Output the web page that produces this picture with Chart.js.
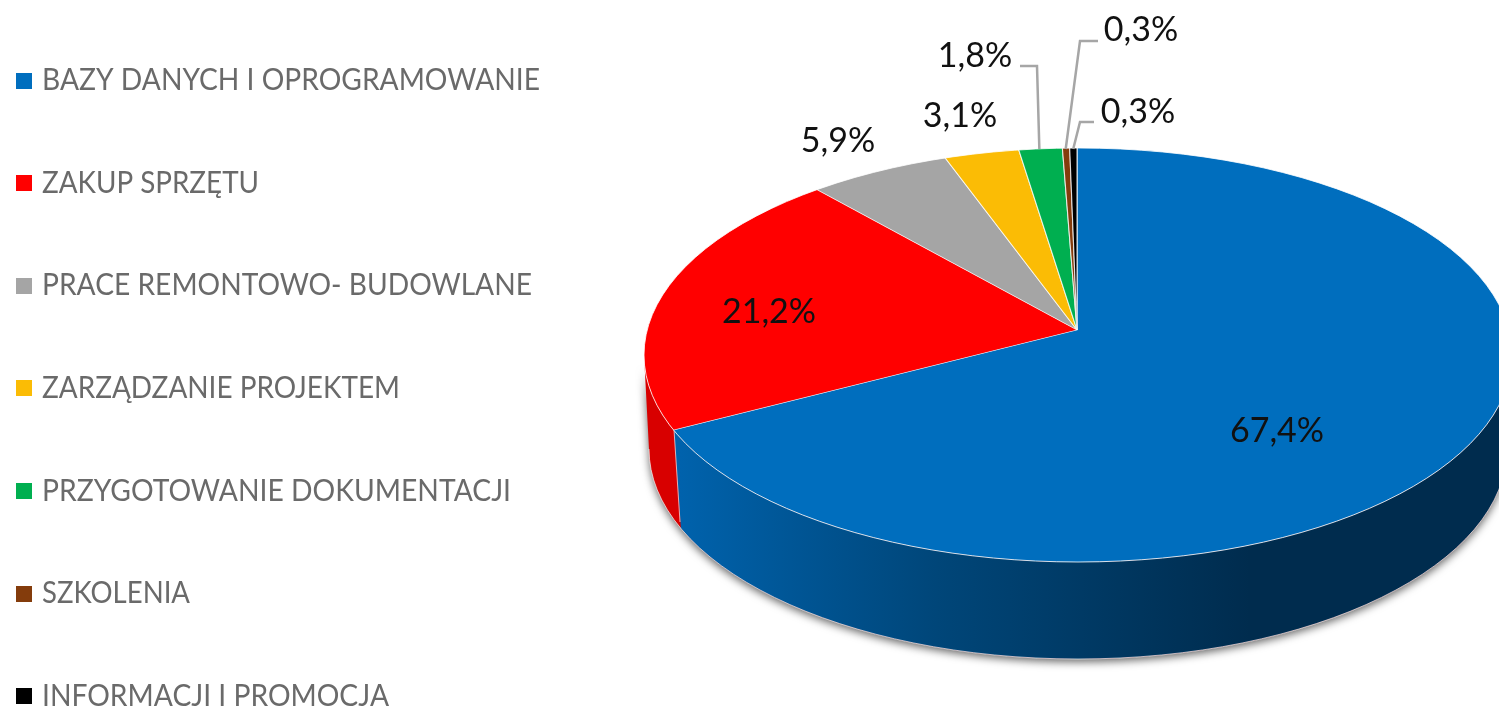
<!DOCTYPE html>
<html lang="pl">
<head>
<meta charset="utf-8">
<title>Struktura wydatków</title>
<script src="https://cdn.jsdelivr.net/npm/chart.js@4"></script>
<style>
    html, body { margin: 0; padding: 0; background: #fff; overflow: hidden; }
    canvas { display: block; }
</style>
</head>
<body>
<canvas id="pieChart" width="1499" height="707"></canvas>
<script>
// Chart data
const categories = [
    'BAZY DANYCH I OPROGRAMOWANIE',
    'ZAKUP SPRZĘTU',
    'PRACE REMONTOWO- BUDOWLANE',
    'ZARZĄDZANIE PROJEKTEM',
    'PRZYGOTOWANIE DOKUMENTACJI',
    'SZKOLENIA',
    'INFORMACJI I PROMOCJA'
];
const values = [67.4, 21.2, 5.9, 3.1, 1.8, 0.3, 0.3];
const colors = ['#006EBE', '#FF0000', '#A5A5A5', '#FBBC05', '#00AF50', '#843C0C', '#000000'];

// Drawing layout (3D look is done with canvas transforms around the library's arcs)
const apex = { x: 1077, y: 330 };
const topFace = { x: 1078, y: 355, rx: 434, ry: 207 };
const bottomFace = { x: 1078, y: 449, rx: 429, ry: 210 };
const upperFan = { narrow: 400, wide: 480, ry: 188 };
const lowerFan = { rx: 490, ry: 235 };
const legendLayout = { x: 42, boxX: 16, boxSize: 16, firstY: 80.5, stepY: 102.6 };
const legendWidths = [498, 217, 490, 358, 469, 148, 347];
const labelSpots = [
    { x: 1277, y: 431 }, { x: 769, y: 312 }, { x: 838, y: 141 }, { x: 960, y: 116 },
    { x: 975, y: 56, elbow: [[1020, 66], [1037, 66]] },
    { x: 1141, y: 30, elbow: [[1098, 41], [1080, 41]] },
    { x: 1138, y: 112, elbow: [[1094, 122], [1080, 122]] }
];

// Put one arc on the page with its own horizontal and vertical radius
function drawArc(ctx, arc, rx, ry) {
    ctx.save();
    ctx.translate(apex.x, apex.y);
    ctx.scale(rx / arc.outerRadius, ry / arc.outerRadius);
    ctx.translate(-arc.x, -arc.y);
    arc.draw(ctx);
    ctx.restore();
}

// Where the blue/red seam hits the rim of the top face
function seamOnRim(arc) {
    const a = arc.endAngle;
    let pt = { x: apex.x, y: apex.y };
    for (let t = 0; t < 1.3; t += 0.002) {
        const x = apex.x + Math.cos(a) * lowerFan.rx * t;
        const y = apex.y + Math.sin(a) * lowerFan.ry * t;
        const ex = (x - topFace.x) / topFace.rx;
        const ey = (y - topFace.y) / topFace.ry;
        if (ex * ex + ey * ey > 1) break;
        pt = { x, y };
    }
    return pt;
}

function sidePath(ctx) {
    ctx.beginPath();
    ctx.moveTo(topFace.x - topFace.rx, topFace.y);
    ctx.lineTo(bottomFace.x - bottomFace.rx, bottomFace.y);
    ctx.ellipse(bottomFace.x, bottomFace.y, bottomFace.rx, bottomFace.ry, 0, Math.PI, 0, true);
    ctx.lineTo(topFace.x + topFace.rx, topFace.y);
    ctx.ellipse(topFace.x, topFace.y, topFace.rx, topFace.ry, 0, 0, Math.PI, false);
    ctx.closePath();
}

function drawSide(ctx, arcs) {
    const seam = seamOnRim(arcs[0]);

    // Red part with a soft shadow under the whole wall
    ctx.save();
    ctx.shadowColor = 'rgba(0,0,0,0.6)';
    ctx.shadowBlur = 8;
    ctx.shadowOffsetY = 3;
    ctx.fillStyle = '#D80000';
    sidePath(ctx);
    ctx.fill();
    ctx.restore();

    // Blue part, right of the seam
    ctx.save();
    sidePath(ctx);
    ctx.clip();
    const grad = ctx.createLinearGradient(680, 0, 1250, 0);
    grad.addColorStop(0, '#0062AC');
    grad.addColorStop(0.45, '#004679');
    grad.addColorStop(1, '#002C4E');
    ctx.fillStyle = grad;
    ctx.beginPath();
    ctx.moveTo(seam.x, seam.y);
    ctx.lineTo(seam.x + 7, seam.y + 100);
    ctx.lineTo(seam.x + 7, 707);
    ctx.lineTo(1499, 707);
    ctx.lineTo(1499, 300);
    ctx.lineTo(seam.x, 300);
    ctx.closePath();
    ctx.fill();
    ctx.restore();

    // Light edges
    ctx.save();
    ctx.strokeStyle = 'rgba(255,255,255,0.65)';
    ctx.lineWidth = 1;
    ctx.beginPath();
    ctx.moveTo(seam.x, seam.y);
    ctx.lineTo(seam.x + 6, seam.y + 92);
    ctx.stroke();
    ctx.beginPath();
    ctx.ellipse(bottomFace.x, bottomFace.y, bottomFace.rx, bottomFace.ry, 0, 0, Math.PI, false);
    ctx.stroke();
    ctx.restore();
}

function drawTop(ctx, arcs) {
    ctx.save();
    ctx.beginPath();
    ctx.ellipse(topFace.x, topFace.y, topFace.rx, topFace.ry, 0, 0, Math.PI * 2);
    ctx.clip();

    // Above the apex
    ctx.save();
    ctx.beginPath();
    ctx.rect(0, 0, 1499, apex.y);
    ctx.clip();
    drawArc(ctx, arcs[1], upperFan.narrow, upperFan.ry);
    drawArc(ctx, arcs[1], upperFan.wide, upperFan.ry);
    drawArc(ctx, arcs[0], upperFan.wide, upperFan.ry);
    for (let i = 2; i < arcs.length; i++) drawArc(ctx, arcs[i], upperFan.narrow, upperFan.ry);
    ctx.restore();

    // Below the apex
    ctx.save();
    ctx.beginPath();
    ctx.rect(0, apex.y, 1499, 707 - apex.y);
    ctx.clip();
    drawArc(ctx, arcs[1], lowerFan.rx, lowerFan.ry);
    drawArc(ctx, arcs[0], lowerFan.rx, lowerFan.ry);
    ctx.restore();

    ctx.restore();

    ctx.save();
    ctx.strokeStyle = 'rgba(255,255,255,0.8)';
    ctx.lineWidth = 1;
    ctx.beginPath();
    ctx.ellipse(topFace.x, topFace.y, topFace.rx, topFace.ry, 0, 0, Math.PI * 2);
    ctx.stroke();
    ctx.restore();
}

function drawLegend(ctx) {
    ctx.save();
    ctx.textBaseline = 'middle';
    ctx.font = '400 30px Lato';
    categories.forEach((name, i) => {
        const y = legendLayout.firstY + i * legendLayout.stepY;
        ctx.fillStyle = colors[i];
        ctx.fillRect(legendLayout.boxX, Math.round(y) - 8, legendLayout.boxSize, legendLayout.boxSize);
        ctx.fillStyle = '#6A6A6A';
        ctx.fillText(name, legendLayout.x, y, legendWidths[i]);
    });
    ctx.restore();
}

function drawLabels(ctx, arcs) {
    ctx.save();
    ctx.textAlign = 'center';
    ctx.textBaseline = 'middle';
    ctx.font = '400 34px Lato';
    values.forEach((v, i) => {
        const spot = labelSpots[i];
        if (spot.elbow) {
            const mid = (arcs[i].startAngle + arcs[i].endAngle) / 2;
            ctx.strokeStyle = '#A6A6A6';
            ctx.lineWidth = 2.5;
            ctx.beginPath();
            ctx.moveTo(spot.elbow[0][0], spot.elbow[0][1]);
            ctx.lineTo(spot.elbow[1][0], spot.elbow[1][1]);
            ctx.lineTo(apex.x + Math.cos(mid) * upperFan.narrow, 149);
            ctx.stroke();
        }
        ctx.fillStyle = '#111';
        ctx.fillText(v.toFixed(1).replace('.', ',') + '%', spot.x, spot.y);
    });
    ctx.restore();
}

const pie3dPlugin = {
    id: 'pie3d',
    // the library's arcs are redrawn by hand in beforeDatasetsDraw
    beforeDatasetDraw() {
        return false;
    },
    beforeDatasetsDraw(chart) {
        const arcs = chart.getDatasetMeta(0).data;
        drawSide(chart.ctx, arcs);
        drawTop(chart.ctx, arcs);
    },
    afterDraw(chart) {
        drawLegend(chart.ctx);
        drawLabels(chart.ctx, chart.getDatasetMeta(0).data);
    }
};

new Chart(document.getElementById('pieChart').getContext('2d'), {
    type: 'pie',
    data: {
        labels: categories,
        datasets: [{
            data: values,
            backgroundColor: colors,
            borderColor: 'rgba(255,255,255,0.75)',
            borderWidth: [1, 0, 1, 1, 1, 1, 1]
        }]
    },
    options: {
        responsive: false,
        animation: false,
        plugins: {
            legend: { display: false },
            tooltip: { enabled: false }
        }
    },
    plugins: [pie3dPlugin]
});
</script>
</body>
</html>
